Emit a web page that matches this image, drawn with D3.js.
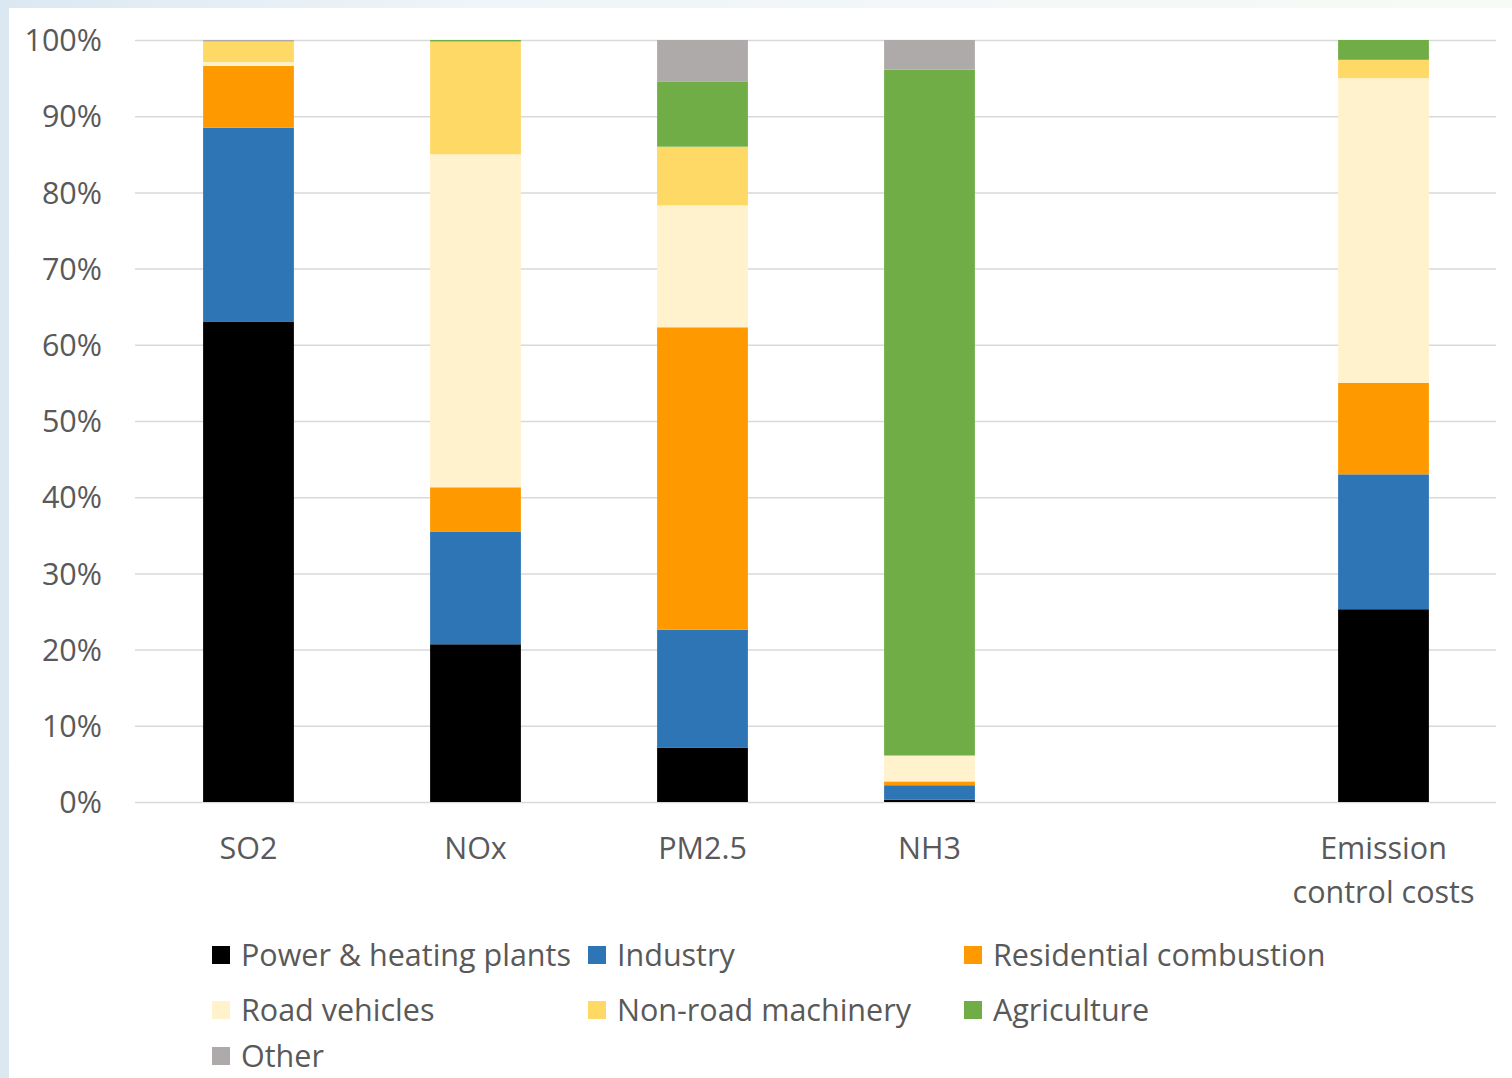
<!DOCTYPE html>
<html>
<head>
<meta charset="utf-8">
<script src="https://cdn.jsdelivr.net/npm/d3@7"></script>
<style>
  html, body { margin: 0; padding: 0; background: #ffffff; }
  svg { display: block; }
  text { font-family: "Open Sans", Lato, sans-serif; fill: #595959; }
</style>
</head>
<body>
<svg id="chart" width="1512" height="1078"></svg>
<script>
// Share of emissions (and of control costs) by source sector, in percent
const categories = ["SO2", "NOx", "PM2.5", "NH3", "", "Emission\ncontrol costs"];
const sectors = ["Power & heating plants", "Industry", "Residential combustion",
                 "Road vehicles", "Non-road machinery", "Agriculture", "Other"];
const sectorColors = ["#000000", "#2E75B6", "#FF9900", "#FFF2CC", "#FFD966", "#70AD47", "#AEAAAA"];

const powerHeating = [63.0, 20.7,  7.1,  0.3, null, 25.3];
const industry     = [25.5, 14.8, 15.5,  1.9, null, 17.7];
const residential  = [ 8.1,  5.8, 39.7,  0.5, null, 12.0];
const roadVehicles = [ 0.5, 43.7, 16.0,  3.4, null, 40.0];
const nonRoad      = [ 2.7, 14.8,  7.7,  0.0, null,  2.4];
const agriculture  = [ 0.0,  0.2,  8.5, 90.0, null,  2.6];
const other        = [ 0.2,  0.0,  5.5,  3.9, null,  0.0];

const yTicks = [0, 10, 20, 30, 40, 50, 60, 70, 80, 90, 100];

const seriesValues = [powerHeating, industry, residential, roadVehicles, nonRoad, agriculture, other];

const rows = categories.map((c, i) => {
  const r = { category: c, key: "c" + i };
  sectors.forEach((s, j) => { r[s] = seriesValues[j][i] || 0; });
  return r;
});

const svg = d3.select("#chart");
const W = 1512, H = 1078;
const FONT = 30.5;

// soft backdrop around the white panel
const defs = svg.append("defs");
const bg = defs.append("linearGradient").attr("id", "bg").attr("x1", 0).attr("y1", 0).attr("x2", 1).attr("y2", 0);
bg.append("stop").attr("offset", 0).attr("stop-color", "#dbe8f2");
bg.append("stop").attr("offset", 0.3).attr("stop-color", "#eef4f8");
bg.append("stop").attr("offset", 1).attr("stop-color", "#f8faf6");
svg.append("rect").attr("width", W).attr("height", H).attr("fill", "url(#bg)");
svg.append("rect").attr("x", 9).attr("y", 8).attr("width", W - 9).attr("height", H - 8).attr("fill", "#ffffff");

const plot = { left: 135, right: 1497, top: 40, bottom: 802 };

const x = d3.scaleBand()
  .domain(rows.map(d => d.key))
  .range([plot.left, plot.right])
  .paddingInner(0.6)
  .paddingOuter(0.3);

const y = d3.scaleLinear().domain([0, 100]).range([plot.bottom, plot.top]);

// gridlines
const grid = svg.append("g")
  .attr("transform", `translate(${plot.left},0)`)
  .call(d3.axisLeft(y).tickValues(yTicks).tickSize(-(plot.right - 1 - plot.left)).tickFormat(""));
grid.select(".domain").remove();
grid.selectAll("line").attr("stroke", "#d9d9d9").attr("stroke-width", 1.5);

// y tick labels
const yAxis = svg.append("g")
  .attr("transform", `translate(${plot.left - 33},0)`)
  .call(d3.axisLeft(y).tickValues(yTicks).tickSize(0).tickPadding(0).tickFormat(d => d + "%"));
yAxis.select(".domain").remove();
yAxis.selectAll("text")
  .attr("font-size", FONT)
  .attr("dy", "0.35em")
  .style("font-family", "'Open Sans', Lato, sans-serif")
  .attr("fill", "#595959");

// stacked bars
const stack = d3.stack().keys(sectors);
const layers = stack(rows);
const color = d3.scaleOrdinal().domain(sectors).range(sectorColors);

svg.append("g").selectAll("g")
  .data(layers)
  .join("g")
  .attr("fill", d => color(d.key))
  .selectAll("rect")
  .data(d => d.filter(p => p[1] - p[0] > 0))
  .join("rect")
  .attr("x", d => x(d.data.key))
  .attr("width", x.bandwidth())
  .attr("y", d => y(d[1]))
  .attr("height", d => y(d[0]) - y(d[1]));

// category labels
const xLab = svg.append("g");
rows.forEach(r => {
  const lines = r.category.split("\n");
  const t = xLab.append("text")
    .attr("x", x(r.key) + x.bandwidth() / 2)
    .attr("y", 859)
    .attr("text-anchor", "middle")
    .attr("font-size", FONT);
  lines.forEach((ln, k) => {
    t.append("tspan").attr("x", x(r.key) + x.bandwidth() / 2).attr("dy", k === 0 ? 0 : 44).text(ln);
  });
});

// legend
const legendCols = [212, 588, 964];
const legendRows = [955, 1010, 1056];
const legend = svg.append("g");
sectors.forEach((s, i) => {
  const cx = legendCols[i % 3], cy = legendRows[Math.floor(i / 3)];
  legend.append("rect")
    .attr("x", cx).attr("y", cy - 9)
    .attr("width", 18).attr("height", 18)
    .attr("fill", sectorColors[i]);
  legend.append("text")
    .attr("x", cx + 29).attr("y", cy)
    .attr("dy", "0.35em")
    .attr("font-size", FONT)
    .text(s);
});
</script>
</body>
</html>
